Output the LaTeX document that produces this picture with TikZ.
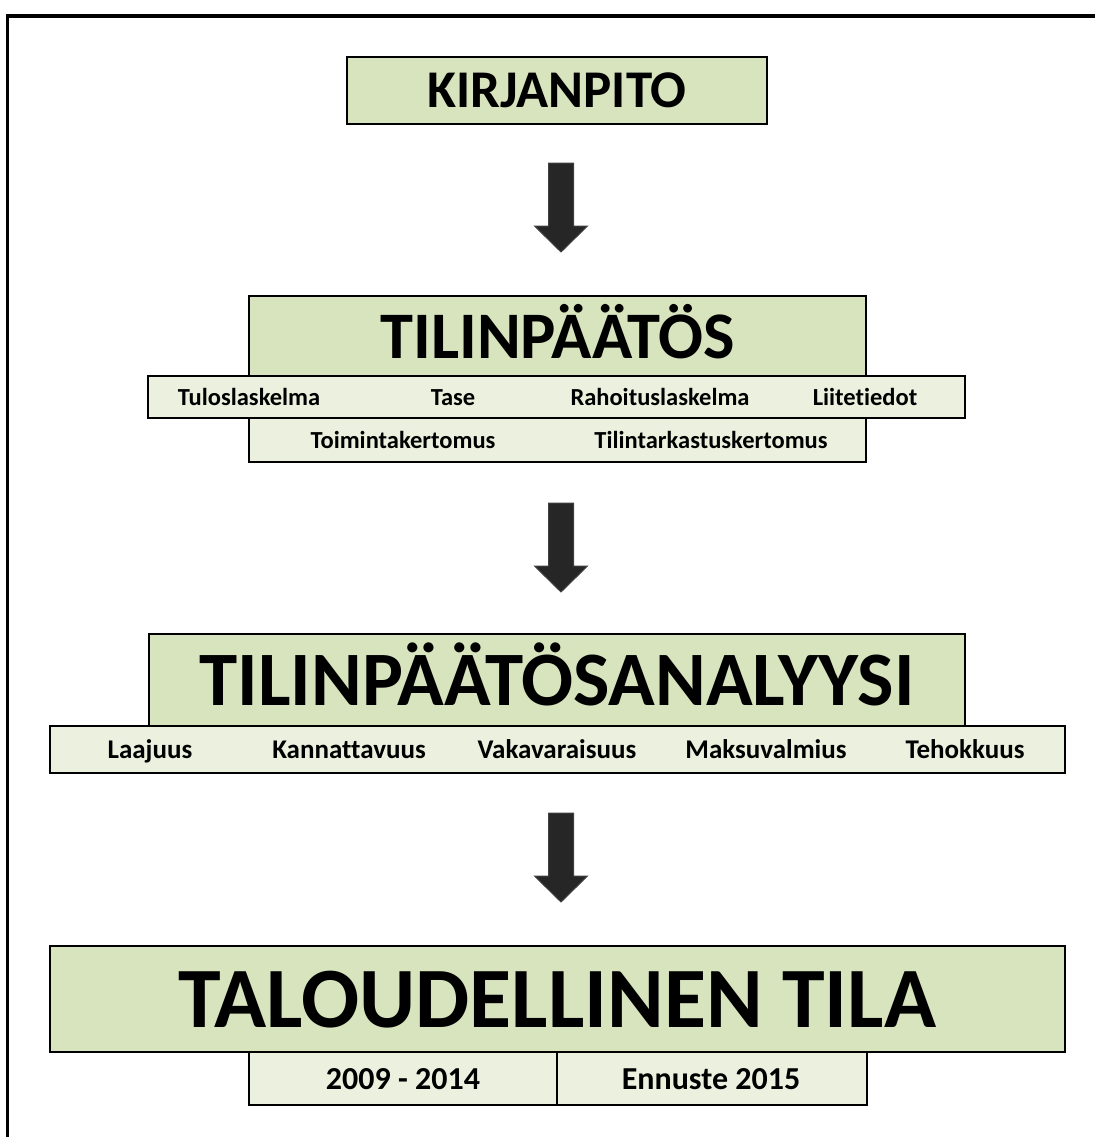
\documentclass[tikz,border=0pt]{standalone}
\usepackage{fontspec}
\setmainfont{Carlito}[Ligatures=NoCommon]
\usepackage{tikz}

\definecolor{titlegreen}{HTML}{D7E4BD}
\definecolor{rowgreen}{HTML}{EBF1DE}
\definecolor{arrowgray}{HTML}{262626}

\tikzset{
  titlebox/.style={draw=black, line width=2pt, fill=titlegreen, inner sep=0pt},
  rowbox/.style={draw=black, line width=2pt, fill=rowgreen, inner sep=0pt},
  bigtext/.style={anchor=base, inner sep=0pt, font=\bfseries\fontsize{#1}{#1}\selectfont},
  rowtext/.style={anchor=base, inner sep=0pt, font=\bfseries\fontsize{#1}{#1}\selectfont}
}

% block arrow pointing down, top centre at #1
\newcommand{\downblock}[1]{%
  \filldraw[fill=arrowgray, draw=black!75, line width=1pt, line join=miter]
    (#1) ++(-12.5,0) -- ++(25,0) -- ++(0,63) -- ++(14,0) -- ++(-26.5,26)
    -- ++(-26.5,-26) -- ++(14,0) -- cycle;}

\begin{document}
\begin{tikzpicture}[x=1pt,y=-1pt]
\useasboundingbox (0,0) rectangle (1095,1137);

% frame
\draw[line width=3.5pt] (7.5,1137) -- (7.5,16) -- (1095,16);

% kirjanpito
\node[titlebox, minimum width=420pt, minimum height=67pt] (kirjanpito) at (557,90.5) {};
\node[bigtext=53] (kirjanpitotxt) at (557,107.5) {KIRJANPITO};

\coordinate (a1) at (561,163);
\downblock{a1}

% tilinpaatos
\node[titlebox, minimum width=617pt, minimum height=80pt] (tp) at (557.5,336) {};
\node[bigtext=66.5] (tptxt) at (557.5,358) {TILINPÄÄTÖS};
\node[rowbox, minimum width=817pt, minimum height=42pt] (tprow) at (556.5,397) {};
\node[rowbox, minimum width=617pt, minimum height=44pt] (tprowb) at (557.5,440) {};
\node[rowtext=24.5] (tulos) at (249,405) {Tuloslaskelma};
\node[rowtext=24.5] (tase) at (453,405) {Tase};
\node[rowtext=24.5] (rahoitus) at (660,405) {Rahoituslaskelma};
\node[rowtext=24.5] (liite) at (865,405) {Liitetiedot};
\node[rowtext=24.5] (toiminta) at (403,448) {Toimintakertomus};
\node[rowtext=24.5] (tilintark) at (711,448) {Tilintarkastuskertomus};

\coordinate (a2) at (561,503);
\downblock{a2}

% tilinpaatosanalyysi
\node[titlebox, minimum width=816pt, minimum height=92pt] (tpa) at (557,680) {};
\node[bigtext=77] (tpatxt) at (557,705) {TILINPÄÄTÖSANALYYSI};
\node[rowbox, minimum width=1015pt, minimum height=47pt] (tparow) at (557.5,749.5) {};
\node[rowtext=27] (laajuus) at (150,758) {Laajuus};
\node[rowtext=27] (kannatt) at (349,758) {Kannattavuus};
\node[rowtext=27] (vakav) at (557,758) {Vakavaraisuus};
\node[rowtext=27] (maksuv) at (766,758) {Maksuvalmius};
\node[rowtext=27] (tehok) at (965,758) {Tehokkuus};

\coordinate (a3) at (561,813);
\downblock{a3}

% taloudellinen tila
\node[titlebox, minimum width=1015pt, minimum height=106pt] (tila) at (557.5,999) {};
\node[bigtext=86] (tilatxt) at (557.5,1027) {TALOUDELLINEN TILA};
\node[rowbox, minimum width=308pt, minimum height=53pt] (vuodet) at (403,1078.5) {};
\node[rowbox, minimum width=310pt, minimum height=53pt] (ennuste) at (712,1078.5) {};
\node[rowtext=32] (vuodettxt) at (403,1089) {2009 - 2014};
\node[rowtext=32] (ennustetxt) at (711,1089) {Ennuste 2015};

\end{tikzpicture}
\end{document}
